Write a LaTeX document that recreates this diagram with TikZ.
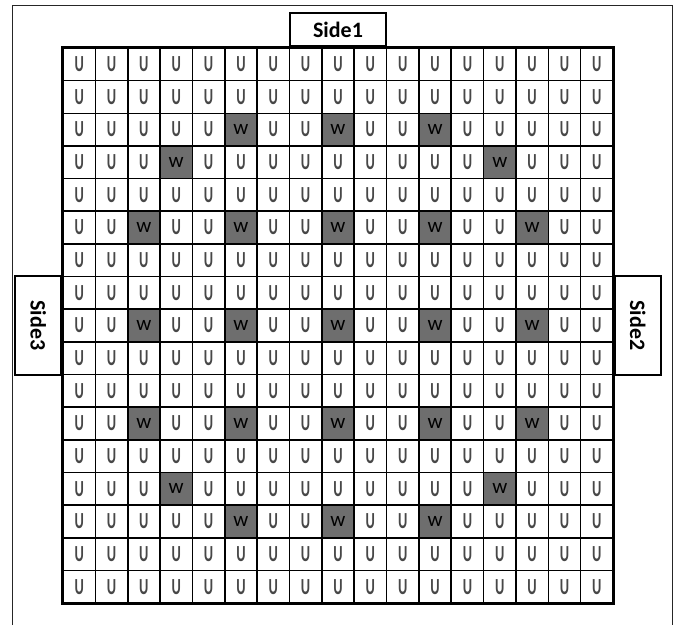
\documentclass[tikz,border=0pt]{standalone}
\usepackage{fontspec}
\setmainfont{Carlito}
\usepackage{graphicx}
\usetikzlibrary{positioning}

% cell sizes of the 17x17 grid (in px of the reference)
\newcommand{\cellw}{32.353}
\newcommand{\cellh}{32.647}
\newcommand{\narrowU}{\scalebox{0.62}[1]{U}}

\tikzset{
  ucell/.style={draw=black, line width=1.6pt, inner sep=0pt,
    minimum width=\cellw pt, minimum height=\cellh pt,
    text=black!72, font=\fontsize{23}{23}\selectfont\bfseries},
  wcell/.style={ucell, fill=black!57, text=black, font=\fontsize{21}{21}\selectfont},
  sidebox/.style={draw=black, line width=2pt, fill=white, inner sep=0pt,
    font=\fontsize{22}{22}\selectfont\bfseries}
}

% positions of the w cells (row/column)
\foreach \r/\c in {3/6,3/9,3/12, 4/4,4/14,
                   6/3,6/6,6/9,6/12,6/15,
                   9/3,9/6,9/9,9/12,9/15,
                   12/3,12/6,12/9,12/12,12/15,
                   14/4,14/14, 15/6,15/9,15/12}
  {\expandafter\gdef\csname wcell@\r @\c\endcsname{}}

\begin{document}
\begin{tikzpicture}[x=1pt, y=-1pt]
  \useasboundingbox (0,0) rectangle (675,625);

  % outer frame (open at the bottom)
  \draw[line width=1pt, black!85] (12.5,625) -- (12.5,5) -- (672,5) -- (672,625);

  % Grid
  \foreach \r in {1,...,17} {
    \foreach \c in {1,...,17} {
      \ifcsname wcell@\r @\c\endcsname
        \node[wcell] (c-\r-\c) at ({63+(\c-0.5)*\cellw}, {48+(\r-0.5)*\cellh}) {w};
      \else
        \node[ucell] (c-\r-\c) at ({63+(\c-0.5)*\cellw}, {48+(\r-0.5)*\cellh}) {\narrowU};
      \fi
    }
  }
  \draw[line width=2.6pt] (c-1-1.north west) rectangle (c-17-17.south east);

  % Sides
  \node[sidebox, minimum width=96pt, minimum height=33pt, above=0pt of c-1-9] (side1) {Side1};
  \node[sidebox, rotate=-90, anchor=south, minimum width=99pt, minimum height=46pt]
    (side2) at (c-9-17.east) {Side2};
  \node[sidebox, rotate=-90, anchor=north, minimum width=99pt, minimum height=46pt]
    (side3) at (c-9-1.west) {Side3};
\end{tikzpicture}
\end{document}
